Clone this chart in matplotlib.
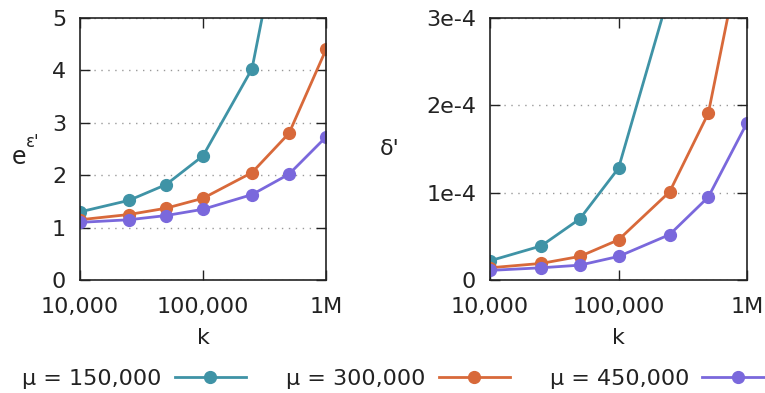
import matplotlib
matplotlib.use("Agg")
import matplotlib.pyplot as plt
from matplotlib.ticker import FixedLocator, NullLocator

# Data
k = [10000, 25000, 50000, 100000, 250000, 500000, 1000000]
labels = ["μ = 150,000", "μ = 300,000", "μ = 450,000"]
colors = ["#3f93a6", "#d8693a", "#7a68dc"]

eps = [
    [1.30, 1.52, 1.82, 2.37, 4.03, 7.6, 15.0],
    [1.15, 1.25, 1.37, 1.56, 2.05, 2.80, 4.40],
    [1.10, 1.15, 1.23, 1.35, 1.63, 2.02, 2.73],
]
delta = [
    [2.2e-5, 3.9e-5, 7.0e-5, 1.28e-4, 3.3e-4, 6.5e-4, 1.3e-3],
    [1.4e-5, 1.9e-5, 2.7e-5, 4.6e-5, 1.01e-4, 1.91e-4, 4.1e-4],
    [1.1e-5, 1.4e-5, 1.7e-5, 2.7e-5, 5.2e-5, 9.5e-5, 1.80e-4],
]

xticks = [1e4, 1e5, 1e6]
xticklabels = ["10,000", "100,000", "1M"]

FS = 16
TXT = "#222222"


def style(ax, yticks, yticklabels, ylim):
    ax.set_xscale("log")
    ax.set_xlim(1e4, 1e6)
    ax.set_ylim(*ylim)
    ax.xaxis.set_major_locator(FixedLocator(xticks))
    ax.xaxis.set_minor_locator(NullLocator())
    ax.set_xticklabels(xticklabels)
    ax.set_yticks(yticks)
    ax.set_yticklabels(yticklabels)
    ax.tick_params(direction="in", top=True, right=True, length=7, width=1,
                   labelsize=FS, colors=TXT)
    ax.tick_params(axis="x", pad=12)
    ax.tick_params(axis="y", pad=10)
    ax.grid(axis="y", linestyle=(0, (1, 4)), color="#999999", linewidth=1)
    for s in ax.spines.values():
        s.set_linewidth(1.2)
        s.set_color(TXT)
    ax.set_xlabel("k", fontsize=FS, color=TXT, labelpad=8)


fig = plt.figure(figsize=(7.65, 3.93), dpi=100)
ax1 = fig.add_axes([0.1046, 0.2875, 0.3216, 0.6667])
ax2 = fig.add_axes([0.6405, 0.2875, 0.336, 0.6667])

handles = []
for ys, c, lab in zip(eps, colors, labels):
    h, = ax1.plot(k, ys, "-o", color=c, lw=2, ms=8.5, label=lab, clip_on=True)
    handles.append(h)
for ys, c in zip(delta, colors):
    ax2.plot(k, ys, "-o", color=c, lw=2, ms=8.5, clip_on=True)

style(ax1, [0, 1, 2, 3, 4, 5], ["0", "1", "2", "3", "4", "5"], (0, 5))
style(ax2, [0, 1e-4, 2e-4, 3e-4], ["0", "1e-4", "2e-4", "3e-4"], (0, 3e-4))

# y label e^(eps'): base and superscript as two texts
ax1.text(-0.278, 0.47, "e", fontsize=FS + 1, color=TXT, ha="left", va="center",
         transform=ax1.transAxes)
ax1.text(-0.222, 0.525, "ε'", fontsize=FS - 4, color=TXT, ha="left", va="center",
         transform=ax1.transAxes)
ax2.text(-0.39, 0.5, "δ'", fontsize=FS, color=TXT, ha="center", va="center",
         transform=ax2.transAxes)

fig.legend(handles=handles, loc="center", bbox_to_anchor=(0.52, 0.035), ncol=3,
           frameon=False, markerfirst=False, fontsize=FS, handlelength=3.2,
           handletextpad=0.6, columnspacing=1.8, labelcolor=TXT)

fig.savefig("out.png", dpi=100)
